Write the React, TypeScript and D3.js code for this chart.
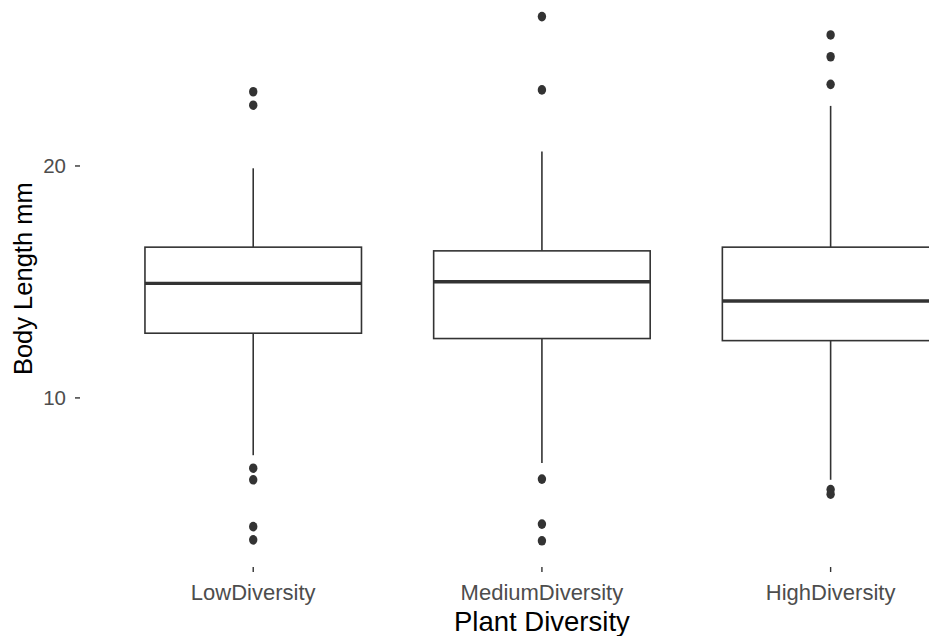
import React from "react";
import * as d3 from "d3";

const categories = ["LowDiversity", "MediumDiversity", "HighDiversity"];
const q1 = [12.79, 12.56, 12.47];
const medians = [14.94, 15.01, 14.18];
const q3 = [16.5, 16.34, 16.5];
const whiskerLow = [7.53, 7.19, 6.47];
const whiskerHigh = [19.9, 20.62, 22.59];
const outliersLow = [23.2, 22.62, 6.97, 6.47, 4.45, 3.88];
const outliersMedium = [26.44, 23.28, 6.5, 4.56, 3.84];
const outliersHigh = [25.65, 24.71, 23.52, 6.05, 5.85];
const yTicks = [10, 20];
const xTitle = "Plant Diversity";
const yTitle = "Body Length mm";

const W = 929;
const H = 636;

export default function App() {
  const outliers = [outliersLow, outliersMedium, outliersHigh];
  const all = [...whiskerLow, ...whiskerHigh, ...outliers.flat()];
  const lo = d3.min(all) as number;
  const hi = d3.max(all) as number;
  const pad = (hi - lo) * 0.05;

  const panelLeft = 80;
  const step = 288.7;
  const panelRight = panelLeft + step * 3.2;
  const panelTop = -9.6;
  const panelBottom = 567;

  const x = d3
    .scaleBand<string>()
    .domain(categories)
    .range([panelLeft + step * 0.1, panelRight - step * 0.1])
    .paddingInner(0)
    .paddingOuter(0);
  const y = d3.scaleLinear().domain([lo - pad, hi + pad]).range([panelBottom, panelTop]);

  const bw = step * 0.75;
  const stroke = "#333333";
  const font = "'Liberation Sans', Arial, sans-serif";

  return (
    <svg
      width={W}
      height={H}
      style={{ position: "absolute", left: 0, top: 0, background: "#ffffff" }}
      fontFamily={font}
    >
      <rect x={0} y={0} width={W} height={H} fill="#ffffff" />
      {categories.map((c, i) => {
        const cx = (x(c) as number) + x.bandwidth() / 2;
        return (
          <g key={c}>
            <line x1={cx} x2={cx} y1={y(q3[i])} y2={y(whiskerHigh[i])} stroke={stroke} strokeWidth={1.6} />
            <line x1={cx} x2={cx} y1={y(q1[i])} y2={y(whiskerLow[i])} stroke={stroke} strokeWidth={1.6} />
            <rect
              x={cx - bw / 2}
              y={y(q3[i])}
              width={bw}
              height={y(q1[i]) - y(q3[i])}
              fill="#ffffff"
              stroke={stroke}
              strokeWidth={1.6}
            />
            <line x1={cx - bw / 2} x2={cx + bw / 2} y1={y(medians[i])} y2={y(medians[i])} stroke={stroke} strokeWidth={3.4} />
            {outliers[i].map((v, j) => (
              <ellipse key={j} cx={cx} cy={y(v)} rx={4.2} ry={4.8} fill={stroke} />
            ))}
            <line x1={cx} x2={cx} y1={panelBottom} y2={panelBottom + 5} stroke={stroke} strokeWidth={1.4} />
            <text x={cx} y={600} textAnchor="middle" fontSize={22} fill="#4d4d4d">
              {c}
            </text>
          </g>
        );
      })}
      {yTicks.map((t) => (
        <g key={t}>
          <line x1={panelLeft - 5} x2={panelLeft} y1={y(t)} y2={y(t)} stroke={stroke} strokeWidth={1.4} />
          <text x={panelLeft - 14} y={y(t)} dy="0.36em" textAnchor="end" fontSize={20.5} fill="#4d4d4d">
            {t}
          </text>
        </g>
      ))}
      <text x={(panelLeft + panelRight) / 2} y={631} textAnchor="middle" fontSize={27.5} fill="#000000">
        {xTitle}
      </text>
      <text
        transform={`translate(${32},${(panelTop + panelBottom) / 2}) rotate(-90)`}
        textAnchor="middle"
        fontSize={25.5}
        fill="#000000"
      >
        {yTitle}
      </text>
    </svg>
  );
}
